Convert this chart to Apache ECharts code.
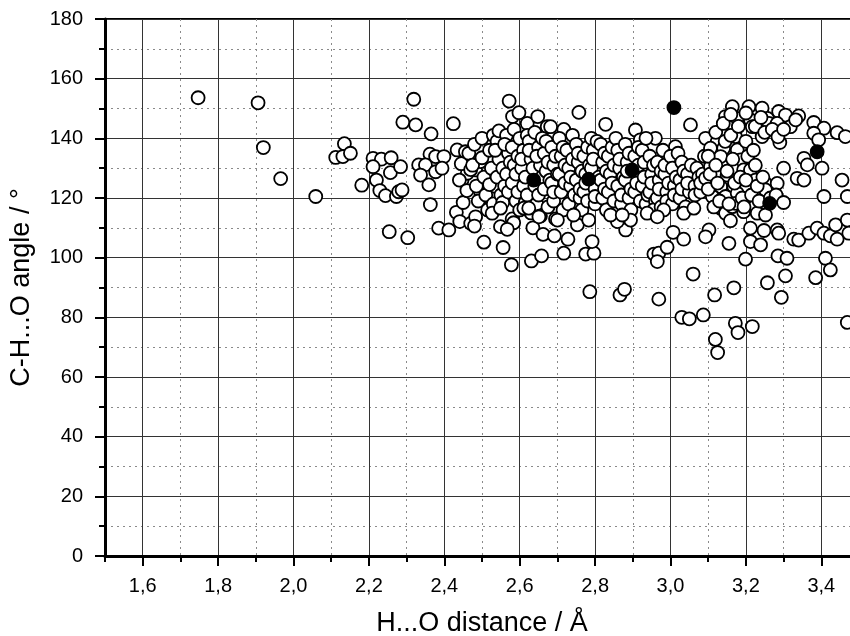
<!DOCTYPE html>
<html>
<head>
<meta charset="utf-8">
<script src="https://cdn.jsdelivr.net/npm/echarts@6/dist/echarts.min.js"></script>
<style>
html, body { margin: 0; padding: 0; background: #fff; }
#chart { width: 850px; height: 636px; }
</style>
</head>
<body>
<div id="chart"></div>
<script>
// labelled x ticks (Å), minor ticks every 0.1 come from the axis itself
var majorTicksX = [1.6, 1.8, 2.0, 2.2, 2.4, 2.6, 2.8, 3.0, 3.2, 3.4];

// open circles: [H...O distance, C-H...O angle]
var openLeft = [
  [1.747, 153.6], [1.906, 151.9], [1.920, 136.9], [1.966, 126.5], [2.059, 120.5],
  [2.135, 138.2], [2.112, 133.6], [2.131, 133.9], [2.151, 135.0], [2.181, 124.3],
  [2.211, 133.3], [2.233, 133.0], [2.259, 133.5], [2.211, 130.5], [2.257, 128.5],
  [2.220, 126.0], [2.229, 122.5], [2.244, 120.8], [2.273, 120.5], [2.279, 122.1],
  [2.254, 108.7], [2.290, 145.4], [2.319, 153.1], [2.324, 144.5], [2.365, 141.5],
  [2.424, 144.9], [2.362, 134.7], [2.377, 133.9], [2.399, 133.9], [2.332, 131.1],
  [2.350, 131.1], [2.377, 128.8], [2.394, 130.0], [2.337, 127.7], [2.359, 124.4],
  [2.284, 130.5], [2.288, 122.7], [2.363, 117.8], [2.434, 136.1], [2.456, 135.5],
  [2.447, 126.0], [2.461, 128.3], [2.483, 129.4], [2.496, 132.2], [2.496, 122.1],
  [2.523, 119.9], [2.303, 106.7], [2.385, 109.9], [2.412, 109.3], [2.432, 115.2],
  [2.441, 112.1], [2.470, 111.5], [2.483, 113.7], [2.480, 110.6]
];

var openTop = [
  [2.572, 152.5], [2.581, 147.3], [2.598, 148.6], [2.620, 145.0], [2.648, 147.3],
  [2.673, 143.9], [2.757, 148.7], [2.828, 144.7], [2.907, 142.8], [2.920, 139.5],
  [3.053, 144.5], [3.013, 137.2], [2.960, 140.0], [2.717, 143.0], [2.682, 143.9],
  [3.164, 150.6], [3.208, 150.6], [3.243, 150.1], [3.287, 149.0], [3.305, 147.8],
  [3.340, 147.5], [3.380, 145.3], [3.407, 143.4], [3.442, 141.9], [3.464, 140.6],
  [3.146, 147.3], [3.177, 146.7], [3.212, 146.2], [3.217, 143.9], [3.257, 146.7],
  [3.261, 145.0], [3.283, 145.0], [3.318, 143.9], [3.332, 146.2], [3.380, 141.7],
  [3.393, 139.5], [3.137, 143.0], [3.172, 140.6], [3.243, 140.6], [3.290, 138.6]
];

var openCoreA = [
  [2.44, 126], [2.445, 131.5], [2.45, 118.5], [2.46, 122.5], [2.465, 135], [2.47, 129.5],
  [2.48, 138], [2.485, 124], [2.475, 131], [2.49, 119],
  [2.50, 133.5], [2.505, 127], [2.50, 140], [2.51, 121], [2.515, 116],
  [2.52, 136], [2.525, 130], [2.52, 124.5], [2.53, 141], [2.53, 118],
  [2.54, 139], [2.545, 133], [2.54, 127], [2.55, 121], [2.535, 136], [2.545, 142.5],
  [2.555, 130], [2.56, 124], [2.555, 118.5],
  [2.565, 141], [2.57, 135], [2.565, 128], [2.57, 122], [2.575, 132], [2.56, 138],
  [2.58, 137], [2.585, 131], [2.58, 125], [2.59, 119], [2.585, 143], [2.59, 128], [2.595, 134], [2.58, 113],
  [2.595, 122], [2.60, 140], [2.60, 116],
  [2.61, 136], [2.605, 130], [2.61, 124], [2.615, 118.5], [2.62, 141], [2.615, 127], [2.605, 133],
  [2.625, 139], [2.63, 133], [2.62, 121], [2.63, 115], [2.635, 130], [2.625, 136], [2.64, 142],
  [2.64, 124], [2.645, 118], [2.635, 110],
  [2.65, 137], [2.655, 131], [2.65, 121], [2.66, 140], [2.645, 134], [2.655, 114],
  [2.665, 135], [2.67, 129], [2.665, 123], [2.675, 117], [2.67, 139], [2.675, 132], [2.68, 126],
  [2.685, 137], [2.69, 131], [2.685, 125], [2.69, 119], [2.695, 134], [2.70, 128], [2.69, 122], [2.695, 113],
  [2.705, 140], [2.71, 134], [2.705, 128], [2.71, 122], [2.715, 116], [2.72, 131], [2.715, 137], [2.72, 125],
  [2.725, 136], [2.73, 130], [2.735, 124], [2.73, 118], [2.74, 133], [2.735, 127], [2.74, 141], [2.745, 121],
  [2.75, 138], [2.755, 132], [2.75, 126], [2.76, 120], [2.755, 135], [2.765, 129], [2.76, 123], [2.765, 116],
  [2.77, 134], [2.775, 128], [2.77, 122], [2.78, 137], [2.785, 131], [2.775, 125], [2.78, 119], [2.79, 140],
  [2.795, 136], [2.79, 130], [2.80, 123], [2.795, 133], [2.80, 118], [2.805, 139], [2.80, 120.5], [2.81, 127],
  [2.815, 138], [2.82, 132], [2.815, 126], [2.82, 120], [2.825, 135], [2.83, 129], [2.825, 123], [2.83, 116],
  [2.835, 134], [2.84, 128], [2.835, 122], [2.845, 137], [2.85, 131], [2.845, 125], [2.85, 119], [2.855, 140],
  [2.86, 136], [2.865, 130], [2.86, 124], [2.87, 118], [2.865, 133], [2.875, 127], [2.87, 121],
  [2.88, 138], [2.885, 132], [2.88, 126], [2.89, 120], [2.885, 129], [2.895, 123], [2.89, 135], [2.895, 116],
  [2.905, 134], [2.91, 128], [2.905, 122], [2.915, 131], [2.91, 125], [2.92, 119], [2.915, 137],
  [2.925, 136], [2.93, 132], [2.925, 124], [2.935, 118], [2.93, 127], [2.94, 121], [2.935, 140],
  [2.945, 134], [2.95, 128], [2.945, 122], [2.955, 131], [2.95, 125], [2.96, 119], [2.955, 116],
  [2.965, 132], [2.97, 126], [2.965, 120], [2.975, 129], [2.97, 123], [2.98, 136], [2.975, 117],
  [2.985, 128], [2.99, 122], [2.985, 131], [2.995, 125], [2.99, 119], [3.00, 134],
  [3.005, 130], [3.01, 124], [3.005, 118], [3.015, 127], [3.01, 121], [3.02, 135],
  [3.025, 126], [3.03, 132], [3.025, 120], [3.035, 129], [3.03, 123],
  [3.045, 128], [3.05, 122], [3.045, 125], [3.055, 131], [3.04, 117],
  [3.065, 124], [3.07, 130], [3.065, 121], [3.075, 127],
  [3.08, 122], [3.085, 128], [3.09, 134], [3.08, 125]
];

var openCoreB = [
  [3.093, 140], [3.124, 138.9], [3.106, 136.7], [3.141, 136.7], [3.177, 136.1],
  [3.186, 132.8], [3.133, 133.9], [3.164, 130], [3.194, 129.4], [3.212, 129.4],
  [3.225, 126], [3.252, 124.9], [3.283, 124.9], [3.106, 130.5], [3.093, 126.6],
  [3.128, 127.2], [3.150, 127.7], [3.133, 123.8], [3.168, 123.8], [3.199, 122.7],
  [3.230, 122.1], [3.252, 122.7], [3.111, 120.5], [3.146, 120.5], [3.177, 121.6],
  [3.133, 116.6], [3.146, 114.9], [3.164, 117.1], [3.172, 118.2], [3.194, 115.4],
  [3.225, 117.3], [3.230, 114.9], [3.252, 114.3], [3.159, 112.4],
  [3.10, 134], [3.105, 128], [3.10, 123], [3.115, 117], [3.12, 131], [3.125, 125],
  [3.12, 142], [3.13, 119], [3.14, 145], [3.145, 139], [3.15, 129], [3.155, 118],
  [3.16, 141], [3.165, 133], [3.17, 125], [3.16, 148], [3.18, 144], [3.185, 127],
  [3.19, 120], [3.195, 117], [3.20, 139], [3.205, 134], [3.20, 126], [3.215, 121],
  [3.20, 148.5], [3.22, 136], [3.225, 131], [3.23, 124], [3.235, 119], [3.225, 144],
  [3.245, 127], [3.24, 147], [3.25, 142], [3.265, 120], [3.27, 143], [3.28, 121],
  [3.285, 140.5], [3.30, 118.5], [3.30, 143],
  [3.354, 133.3], [3.363, 131.1], [3.336, 126.6], [3.354, 126.0], [3.300, 130.0],
  [3.402, 130.0], [3.455, 126.0], [3.407, 120.5], [3.469, 120.5]
];

var openLow = [
  [2.505, 105.2], [2.556, 103.4], [2.578, 97.6], [2.631, 98.9], [2.658, 100.6],
  [2.662, 107.8], [2.527, 114.9], [2.549, 116.6], [2.584, 111.7], [2.549, 110.4],
  [2.567, 109.5], [2.611, 116.6], [2.624, 116.6], [2.651, 113.7],
  [2.786, 88.6], [2.866, 87.5], [2.878, 89.4], [2.969, 86.1], [3.060, 94.5],
  [2.717, 101.5], [2.775, 101.2], [2.797, 101.5], [2.792, 105.4], [2.692, 107.3],
  [2.728, 106.2], [2.956, 101.2], [2.969, 101.5], [2.965, 98.7], [2.991, 103.5],
  [3.007, 108.5], [3.035, 106.2], [2.881, 109.3], [2.894, 112.6], [2.859, 112.1],
  [2.841, 114.3], [2.872, 114.3], [2.700, 112.6], [2.753, 111.0], [2.783, 112.6],
  [2.743, 114.3], [3.035, 114.9], [3.062, 116.6], [2.982, 116.0], [2.938, 114.9],
  [2.965, 113.7], [3.030, 80.0], [3.050, 79.5],
  [3.102, 109.3], [3.093, 107.0], [3.212, 109.9], [3.212, 105.4], [3.239, 104.3],
  [3.248, 109.1], [3.283, 109.3], [3.287, 108.2], [3.155, 104.8], [3.327, 106.2],
  [3.340, 105.9], [3.367, 108.2], [3.389, 109.9], [3.407, 108.2], [3.424, 107.3],
  [3.438, 111.0], [3.442, 106.2], [3.469, 112.6], [3.473, 108.2], [3.199, 99.5],
  [3.285, 100.6], [3.309, 99.8], [3.411, 99.8], [3.424, 95.9], [3.305, 93.9],
  [3.257, 91.6], [3.385, 93.3], [3.168, 89.9], [3.117, 87.5], [3.294, 86.7],
  [3.087, 80.8], [3.172, 78.0], [3.179, 74.9], [3.217, 76.9], [3.119, 72.6],
  [3.125, 68.2], [3.469, 78.3]
];

// filled circles
var filledPoints = [
  [2.637, 126.0], [2.783, 126.3], [2.898, 129.4], [3.009, 150.3], [3.263, 118.2], [3.389, 135.5]
];

var openPoints = openLeft.concat(openTop, openCoreA, openCoreB, openLow);

var font = 'Liberation Sans, Arial, Helvetica, sans-serif';
var chart = echarts.init(document.getElementById('chart'));

var option = {
  animation: false,
  backgroundColor: '#fff',
  grid: {
    left: 105,
    top: 19,
    width: 754,
    height: 537,
    outerBoundsMode: 'none',
    containLabel: false,
    show: true,
    borderColor: '#000',
    borderWidth: 2
  },
  xAxis: [{
    type: 'value',
    min: 1.5,
    max: 3.5,
    interval: 0.1,
    position: 'bottom',
    axisLine: { show: true, onZero: false, lineStyle: { color: '#000', width: 3 } },
    axisTick: { show: true, length: 6, lineStyle: { color: '#000', width: 2 } },
    axisLabel: { show: false },
    splitLine: { show: true, lineStyle: { color: '#8a8a8a', width: 1, type: [2, 4] } }
  }, {
    type: 'value',
    min: 1.5,
    max: 3.5,
    position: 'bottom',
    axisLine: { show: false, onZero: false },
    axisTick: { show: true, length: 10, customValues: majorTicksX, lineStyle: { color: '#000', width: 2 } },
    axisLabel: {
      customValues: majorTicksX,
      formatter: function (v) { return v.toFixed(1).replace('.', ','); },
      fontSize: 20,
      color: '#000',
      fontFamily: font,
      margin: 20
    },
    splitLine: { show: true, lineStyle: { color: '#333', width: 1 } },
    name: 'H...O distance / Å',
    nameLocation: 'middle',
    nameGap: 54,
    nameTextStyle: { fontSize: 27, color: '#000', fontFamily: font }
  }],
  yAxis: {
    type: 'value',
    min: 0,
    max: 180,
    interval: 20,
    axisLine: { show: true, onZero: false, lineStyle: { color: '#000', width: 3 } },
    axisTick: { show: true, length: 10, lineStyle: { color: '#000', width: 2 } },
    minorTick: { show: true, splitNumber: 2, length: 6, lineStyle: { color: '#000', width: 2 } },
    splitLine: { show: true, lineStyle: { color: '#333', width: 1 } },
    minorSplitLine: { show: true, lineStyle: { color: '#8a8a8a', width: 1, type: [2, 4] } },
    axisLabel: { fontSize: 20, color: '#000', fontFamily: font, margin: 22 },
    name: 'C-H...O angle / °',
    nameLocation: 'middle',
    nameGap: 70,
    nameTextStyle: { fontSize: 27, color: '#000', fontFamily: font }
  },
  series: [{
    type: 'scatter',
    xAxisIndex: 0,
    symbol: 'circle',
    symbolSize: 13,
    itemStyle: { color: '#fff', borderColor: '#000', borderWidth: 1.8, opacity: 1 },
    data: openPoints
  }, {
    type: 'scatter',
    xAxisIndex: 0,
    symbol: 'circle',
    symbolSize: 13,
    itemStyle: { color: '#000', borderColor: '#000', borderWidth: 1.8, opacity: 1 },
    data: filledPoints
  }]
};

chart.setOption(option);
</script>
</body>
</html>
